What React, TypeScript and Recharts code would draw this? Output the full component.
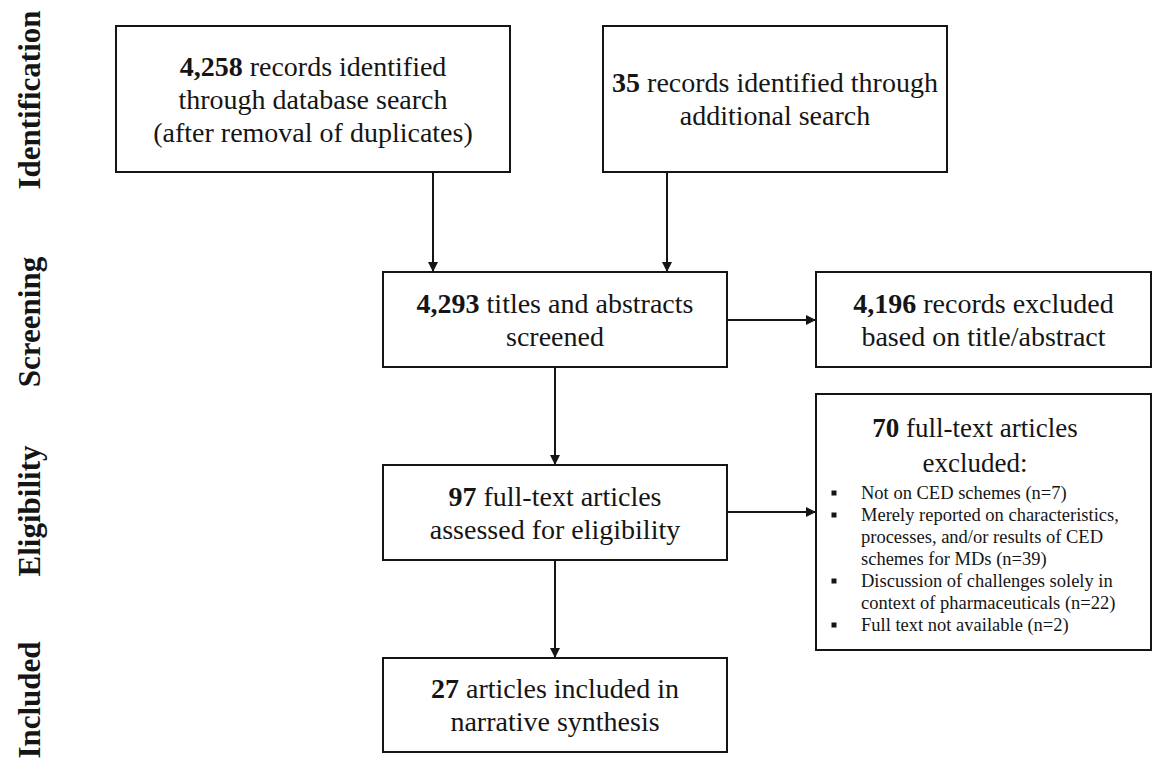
import { ReferenceArea, ReferenceLine, Scatter, ScatterChart, XAxis, YAxis } from "recharts";

const WIDTH = 1153;
const HEIGHT = 774;
const FONT = '"Liberation Serif", "Times New Roman", serif';
const INK = "#151515";

// ---- data: PRISMA stages, counts and box wording ----
const STAGES = ["Identification", "Screening", "Eligibility", "Included"];

const BOX_COUNTS = ["4,258", "35", "4,293", "4,196", "97", "70", "27"];

const BOX_LINES = [
  [" records identified", "through database search", "(after removal of duplicates)"],
  [" records identified through", "additional search"],
  [" titles and abstracts", "screened"],
  [" records excluded", "based on title/abstract"],
  [" full-text articles", "assessed for eligibility"],
  [" full-text articles", "excluded:"],
  [" articles included in", "narrative synthesis"],
];

const EXCLUSION_REASONS = [
  ["Not on CED schemes"],
  ["Merely reported on characteristics,", "processes, and/or results of CED", "schemes for MDs"],
  ["Discussion of challenges solely in", "context of pharmaceuticals"],
  ["Full text not available"],
];
const EXCLUSION_N = [7, 39, 22, 2];

// ---- layout (diagram units = pixels of the figure) ----
const BOX_RECTS = [
  { x1: 116, x2: 510, y1: 26, y2: 172 },
  { x1: 603, x2: 947, y1: 26, y2: 172 },
  { x1: 383, x2: 727, y1: 272, y2: 367 },
  { x1: 816, x2: 1151, y1: 272, y2: 367 },
  { x1: 383, x2: 727, y1: 465, y2: 560 },
  { x1: 816, x2: 1151, y1: 394, y2: 650 },
  { x1: 383, x2: 727, y1: 658, y2: 752 },
];
const STAGE_ROWS = [100, 322, 511, 700];
const STAGE_X = 29;

const ARROWS = [
  { from: { x: 433, y: 172 }, to: { x: 433, y: 272 }, dir: "down" },
  { from: { x: 667, y: 172 }, to: { x: 667, y: 272 }, dir: "down" },
  { from: { x: 555, y: 367 }, to: { x: 555, y: 465 }, dir: "down" },
  { from: { x: 555, y: 560 }, to: { x: 555, y: 658 }, dir: "down" },
  { from: { x: 727, y: 320 }, to: { x: 816, y: 320 }, dir: "right" },
  { from: { x: 727, y: 512 }, to: { x: 816, y: 512 }, dir: "right" },
];

const LINE_H = 33;
const EXCL_TITLE_X = 975;
const EXCL_TITLE_Y = 445;
const EXCL_TITLE_STEP = 35;
const BULLET_X = 834;
const BULLET_TEXT_X = 861;
const BULLET_Y0 = 493;
const BULLET_STEP = 22;

// points for the main box texts (box 6 handled separately)
const boxTextPoints = BOX_RECTS.map((r, i) => ({
  x: i === 5 ? EXCL_TITLE_X : (r.x1 + r.x2) / 2,
  y: i === 5 ? EXCL_TITLE_Y : (r.y1 + r.y2) / 2,
  count: BOX_COUNTS[i],
  lines: BOX_LINES[i],
  step: i === 5 ? EXCL_TITLE_STEP : LINE_H,
  size: i === 5 ? 27 : 28,
}));

const bulletPoints: { x: number; y: number; text: string; bullet: boolean }[] = [];
EXCLUSION_REASONS.forEach((lines, i) => {
  lines.forEach((line, j) => {
    const text = j === lines.length - 1 ? `${line} (n=${EXCLUSION_N[i]})` : line;
    bulletPoints.push({
      x: BULLET_TEXT_X,
      y: BULLET_Y0 + bulletPoints.length * BULLET_STEP,
      text,
      bullet: j === 0,
    });
  });
});

const stagePoints = STAGES.map((name, i) => ({ x: STAGE_X, y: STAGE_ROWS[i], name }));

const arrowHeads = ARROWS.map((a) => ({ x: a.to.x, y: a.to.y, dir: a.dir }));

function BoxText(props: any) {
  const { cx, cy, payload } = props;
  const n = payload.lines.length;
  const y0 = cy - ((n - 1) * payload.step) / 2;
  return (
    <text textAnchor="middle" fontFamily={FONT} fontSize={payload.size} fill={INK}>
      {payload.lines.map((line: string, i: number) => (
        <tspan key={i} x={cx} y={y0 + i * payload.step} dy="0.34em">
          {i === 0 && <tspan fontWeight="bold">{payload.count}</tspan>}
          {line}
        </tspan>
      ))}
    </text>
  );
}

function BulletLine(props: any) {
  const { cx, cy, payload } = props;
  return (
    <g>
      {payload.bullet && (
        <rect x={BULLET_X - 2.5 + (cx - BULLET_TEXT_X)} y={cy - 2.5} width={5} height={5} fill={INK} />
      )}
      <text x={cx} y={cy} dy="0.34em" fontFamily={FONT} fontSize={18.5} fill={INK}>
        {payload.text}
      </text>
    </g>
  );
}

function StageLabel(props: any) {
  const { cx, cy, payload } = props;
  return (
    <text
      x={cx}
      y={cy}
      dy="0.34em"
      textAnchor="middle"
      transform={`rotate(-90 ${cx} ${cy})`}
      fontFamily={FONT}
      fontWeight="bold"
      fontSize={31}
      fill={INK}
    >
      {payload.name}
    </text>
  );
}

function ArrowHead(props: any) {
  const { cx, cy, payload } = props;
  const len = 10;
  const half = 5;
  const pts =
    payload.dir === "down"
      ? `${cx},${cy} ${cx - half},${cy - len} ${cx + half},${cy - len}`
      : `${cx},${cy} ${cx - len},${cy - half} ${cx - len},${cy + half}`;
  return <polygon points={pts} fill={INK} />;
}

export default function App() {
  return (
    <div style={{ width: WIDTH, height: HEIGHT, background: "#fff" }}>
      <style>{"body{margin:0;background:#fff}"}</style>
      <ScatterChart width={WIDTH} height={HEIGHT} margin={{ top: 0, right: 0, bottom: 0, left: 0 }}>
        <XAxis type="number" dataKey="x" domain={[0, WIDTH]} hide allowDataOverflow />
        <YAxis type="number" dataKey="y" domain={[0, HEIGHT]} reversed hide allowDataOverflow />
        {BOX_RECTS.map((r, i) => (
          <ReferenceArea
            key={`box-${i}`}
            x1={r.x1}
            x2={r.x2}
            y1={r.y1}
            y2={r.y2}
            fill="none"
            stroke={INK}
            strokeWidth={2}
            ifOverflow="visible"
          />
        ))}
        {ARROWS.map((a, i) => (
          <ReferenceLine
            key={`arrow-${i}`}
            segment={[a.from, a.to]}
            stroke={INK}
            strokeWidth={2}
            ifOverflow="visible"
          />
        ))}
        <Scatter data={arrowHeads} shape={ArrowHead} isAnimationActive={false} />
        <Scatter data={boxTextPoints} shape={BoxText} isAnimationActive={false} />
        <Scatter data={bulletPoints} shape={BulletLine} isAnimationActive={false} />
        <Scatter data={stagePoints} shape={StageLabel} isAnimationActive={false} />
      </ScatterChart>
    </div>
  );
}
